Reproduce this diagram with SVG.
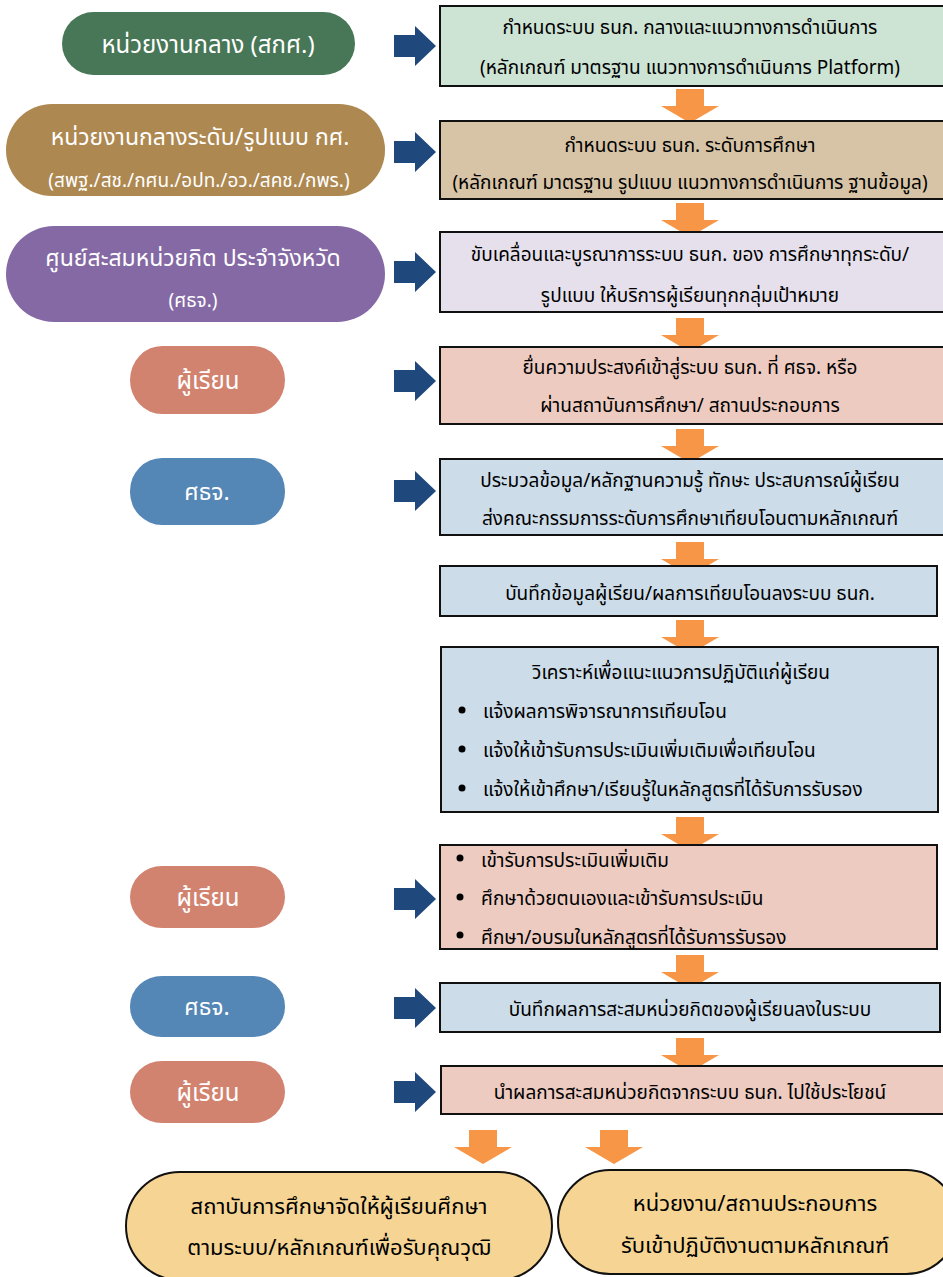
<svg xmlns="http://www.w3.org/2000/svg" width="943" height="1277" viewBox="0 0 943 1277">
<style>
text{font-family:"Noto Sans Thai","Noto Sans","DejaVu Sans",sans-serif;}
.w{fill:#fff;text-anchor:middle;}
.b{fill:#000;text-anchor:middle;font-size:19px;}
.l{fill:#000;font-size:19px;}
.o{fill:#000;text-anchor:middle;font-size:22px;}
.box{stroke:#111;stroke-width:2;}
.oa{fill:#F79646;}
.ba{fill:#1F497D;}
</style>
<defs>
<path id="down" d="M-14,0 H14 V17 H29 L0,34 L-29,17 H-14 Z"/>
<path id="right" d="M0,-11 H21 V-20 L42,0 L21,20 V11 H0 Z"/>
</defs>
<rect width="943" height="1277" fill="#fff"/>

<g id="connectors">
<use href="#right" class="ba" x="394" y="46"/>
<use href="#right" class="ba" x="394" y="152"/>
<use href="#right" class="ba" x="394" y="272"/>
<use href="#right" class="ba" x="394" y="381"/>
<use href="#right" class="ba" x="394" y="491"/>
<use href="#right" class="ba" x="394" y="899"/>
<use href="#right" class="ba" x="394" y="1008"/>
<use href="#right" class="ba" x="394" y="1092"/>
<use href="#down" class="oa" x="690" y="89"/>
<use href="#down" class="oa" x="690" y="203"/>
<use href="#down" class="oa" x="690" y="318"/>
<use href="#down" class="oa" x="690" y="429"/>
<use href="#down" class="oa" x="690" y="542"/>
<use href="#down" class="oa" x="690" y="620"/>
<use href="#down" class="oa" x="690" y="817"/>
<use href="#down" class="oa" x="690" y="955"/>
<use href="#down" class="oa" x="690" y="1038"/>
<use href="#down" class="oa" x="483" y="1130"/>
<use href="#down" class="oa" x="614" y="1130"/>
</g>

<g id="pill-1">
<rect x="62" y="12" width="293" height="63" rx="31.5" fill="#477756"/>
<text class="w" x="208" y="53" font-size="24">หน่วยงานกลาง (สกศ.)</text>
</g>
<g id="pill-2">
<rect x="6" y="104" width="379" height="92" rx="46" fill="#AE8851"/>
<text class="w" x="200" y="145" font-size="23">หน่วยงานกลางระดับ/รูปแบบ กศ.</text>
<text class="w" x="199" y="187" font-size="19">(สพฐ./สช./กศน./อปท./อว./สคช./กพร.)</text>
</g>
<g id="pill-3">
<rect x="6" y="226" width="379" height="96" rx="48" fill="#8469A4"/>
<text class="w" x="193" y="266" font-size="23">ศูนย์สะสมหน่วยกิต ประจำจังหวัด</text>
<text class="w" x="193" y="307" font-size="19">(ศธจ.)</text>
</g>
<g id="pill-4">
<rect x="130" y="346" width="155" height="68" rx="32" ry="34" fill="#D18370"/>
<text class="w" x="208" y="389" font-size="24">ผู้เรียน</text>
</g>
<g id="pill-5">
<rect x="130" y="458" width="155" height="67" rx="32" ry="33" fill="#5487B6"/>
<text class="w" x="207" y="500" font-size="23">ศธจ.</text>
</g>
<g id="pill-6">
<rect x="130" y="866" width="155" height="62" rx="32" ry="31" fill="#D18370"/>
<text class="w" x="208" y="906" font-size="24">ผู้เรียน</text>
</g>
<g id="pill-7">
<rect x="130" y="976" width="155" height="61" rx="32" ry="30" fill="#5487B6"/>
<text class="w" x="207" y="1015" font-size="23">ศธจ.</text>
</g>
<g id="pill-8">
<rect x="130" y="1061" width="155" height="62" rx="32" ry="31" fill="#D18370"/>
<text class="w" x="208" y="1101" font-size="24">ผู้เรียน</text>
</g>

<g id="box-1">
<rect class="box" x="440" y="6" width="510" height="80" fill="#CDE3D4"/>
<text class="b" x="690" y="34">กำหนดระบบ ธนก. กลางและแนวทางการดำเนินการ</text>
<text class="b" x="690" y="74">(หลักเกณฑ์ มาตรฐาน แนวทางการดำเนินการ Platform)</text>
</g>
<g id="box-2">
<rect class="box" x="440" y="121" width="510" height="78" fill="#D7C4A6"/>
<text class="b" x="690" y="152">กำหนดระบบ ธนก. ระดับการศึกษา</text>
<text class="b" x="690" y="189">(หลักเกณฑ์ มาตรฐาน รูปแบบ แนวทางการดำเนินการ ฐานข้อมูล)</text>
</g>
<g id="box-3">
<rect class="box" x="440" y="232" width="510" height="80" fill="#E5E0EC"/>
<text class="b" x="690" y="261">ขับเคลื่อนและบูรณาการระบบ ธนก. ของ การศึกษาทุกระดับ/</text>
<text class="b" x="690" y="302">รูปแบบ ให้บริการผู้เรียนทุกกลุ่มเป้าหมาย</text>
</g>
<g id="box-4">
<rect class="box" x="440" y="347" width="510" height="77" fill="#EDCBC1"/>
<text class="b" x="690" y="374">ยื่นความประสงค์เข้าสู่ระบบ ธนก. ที่ ศธจ. หรือ</text>
<text class="b" x="690" y="412">ผ่านสถาบันการศึกษา/ สถานประกอบการ</text>
</g>
<g id="box-5">
<rect class="box" x="440" y="459" width="510" height="76" fill="#CCDCE9"/>
<text class="b" x="690" y="487">ประมวลข้อมูล/หลักฐานความรู้ ทักษะ ประสบการณ์ผู้เรียน</text>
<text class="b" x="690" y="525">ส่งคณะกรรมการระดับการศึกษาเทียบโอนตามหลักเกณฑ์</text>
</g>
<g id="box-6">
<rect class="box" x="440" y="566" width="497" height="50" fill="#CCDCE9"/>
<text class="b" x="690" y="600">บันทึกข้อมูลผู้เรียน/ผลการเทียบโอนลงระบบ ธนก.</text>
</g>
<g id="box-7">
<rect class="box" x="441" y="647" width="497" height="165" fill="#CCDCE9"/>
<text class="b" x="681" y="679">วิเคราะห์เพื่อแนะแนวการปฏิบัติแก่ผู้เรียน</text>
<circle cx="462" cy="710" r="3.5"/>
<text class="l" x="483" y="718">แจ้งผลการพิจารณาการเทียบโอน</text>
<circle cx="462" cy="749" r="3.5"/>
<text class="l" x="483" y="757">แจ้งให้เข้ารับการประเมินเพิ่มเติมเพื่อเทียบโอน</text>
<circle cx="462" cy="788" r="3.5"/>
<text class="l" x="483" y="796">แจ้งให้เข้าศึกษา/เรียนรู้ในหลักสูตรที่ได้รับการรับรอง</text>
</g>
<g id="box-8">
<rect class="box" x="440" y="845" width="497" height="104" fill="#EDCBC1"/>
<circle cx="460" cy="858" r="3.5"/>
<text class="l" x="481" y="867">เข้ารับการประเมินเพิ่มเติม</text>
<circle cx="460" cy="897" r="3.5"/>
<text class="l" x="481" y="905">ศึกษาด้วยตนเองและเข้ารับการประเมิน</text>
<circle cx="460" cy="935" r="3.5"/>
<text class="l" x="481" y="944">ศึกษา/อบรมในหลักสูตรที่ได้รับการรับรอง</text>
</g>
<g id="box-9">
<rect class="box" x="440" y="983" width="500" height="49" fill="#CCDCE9"/>
<text class="b" x="690" y="1016">บันทึกผลการสะสมหน่วยกิตของผู้เรียนลงในระบบ</text>
</g>
<g id="box-10">
<rect class="box" x="441" y="1066" width="510" height="48" fill="#EDCBC1"/>
<text class="b" x="690" y="1099">นำผลการสะสมหน่วยกิตจากระบบ ธนก. ไปใช้ประโยชน์</text>
</g>

<g id="oval-1">
<rect class="box" x="126" y="1172" width="426" height="108" rx="54" fill="#F6D594"/>
<text class="o" x="339" y="1214">สถาบันการศึกษาจัดให้ผู้เรียนศึกษา</text>
<text class="o" x="339" y="1255">ตามระบบ/หลักเกณฑ์เพื่อรับคุณวุฒิ</text>
</g>
<g id="oval-2">
<rect class="box" x="558" y="1170" width="400" height="104" rx="52" fill="#F6D594"/>
<text class="o" x="755" y="1211">หน่วยงาน/สถานประกอบการ</text>
<text class="o" x="755" y="1253">รับเข้าปฏิบัติงานตามหลักเกณฑ์</text>
</g>
</svg>
